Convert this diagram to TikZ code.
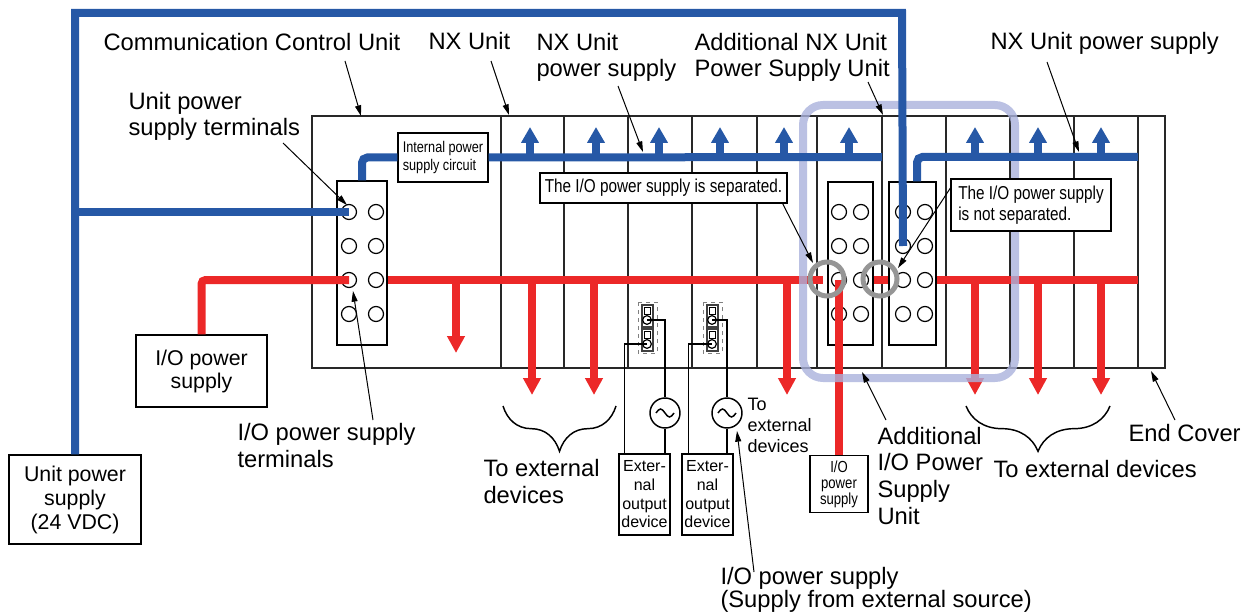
\documentclass[tikz,border=0pt]{standalone}
\usepackage{fontspec}
\setmainfont{Liberation Sans}
\newfontfamily\narrowfont[FakeStretch=0.82]{Liberation Sans}
\usetikzlibrary{arrows.meta,decorations.pathreplacing}

\definecolor{busblue}{RGB}{38,88,166}
\definecolor{busred}{RGB}{236,40,40}
\definecolor{framelav}{RGB}{170,178,220}
\definecolor{ringgray}{RGB}{150,150,150}
\definecolor{railgray}{RGB}{40,40,40}

\tikzset{every picture/.style={line width=0.75pt}}
\tikzset{
  rack/.style={draw=railgray, line width=1.5pt},
  tblock/.style={draw, line width=0.9pt, inner sep=0pt},
  term/.style={circle, draw, line width=0.9pt, minimum size=11.25pt, inner sep=0pt},
  pinhole/.style={circle, draw, line width=0.9pt, minimum size=6.5pt, inner sep=0pt},
  acsrc/.style={circle, draw, line width=1.1pt, minimum size=22.5pt, inner sep=0pt},
  lbl/.style={inner sep=0pt, align=left, font=\fontsize{17.8}{20}\selectfont},
  psbox/.style={draw, line width=1.1pt, align=center, inner sep=0pt, font=\fontsize{16}{18}\selectfont},
  devbox/.style={draw, line width=1.1pt, align=center, inner sep=0pt, font=\fontsize{12}{14}\selectfont, minimum width=38.25pt, minimum height=60.75pt},
  note/.style={draw, fill=white, line width=0.9pt, align=left, inner sep=0pt, font=\narrowfont\fontsize{14}{15.8}\selectfont},
  ptr/.style={-{Triangle[length=8pt,width=4.5pt]}, line width=0.75pt},
  bluebus/.style={busblue, line width=6pt},
  redbus/.style={busred, line width=6pt},
  bluearr/.style={busblue, line width=6pt, -{Triangle[length=12pt,width=12.75pt]}},
  redarr/.style={busred, line width=6pt, -{Triangle[length=12.75pt,width=12.75pt]}},
  wire/.style={line width=1.1pt},
  brc/.style={decorate, decoration={brace, amplitude=34pt}, line width=1.1pt},
}

\begin{document}
\begin{tikzpicture}[x=0.75pt,y=0.75pt,yscale=-1,xscale=1]
\useasboundingbox (0,0) rectangle (1245,613);

%Shape: Rectangle (rack)
\draw [rack] (312,116) rectangle (1165,368);
%Straight Lines (unit borders)
\draw [rack] (501,116) -- (501,368) (564,116) -- (564,368) (628,116) -- (628,368) (692,116) -- (692,368) (757,116) -- (757,368) (817,116) -- (817,368) (882,116) -- (882,368) (946,116) -- (946,368) (1010,116) -- (1010,368) (1074,116) -- (1074,368) (1138,116) -- (1138,368);

%Shape: terminal blocks
\draw (362,263) node [tblock, minimum width=37.5pt, minimum height=123pt] (blkc) {};
\draw (850.5,263.5) node [tblock, minimum width=33.75pt, minimum height=122.25pt] (blka) {};
\draw (912.5,263.5) node [tblock, minimum width=35.25pt, minimum height=122.25pt] (blkb) {};

%Shape: terminals
\draw (349,212) node [term] (c11) {} (376,212) node [term] (c12) {};
\draw (349,246) node [term] (c21) {} (376,246) node [term] (c22) {};
\draw (349,280) node [term] (c31) {} (376,280) node [term] (c32) {};
\draw (349,314) node [term] (c41) {} (376,314) node [term] (c42) {};
\draw (839,212) node [term] (a11) {} (861,212) node [term] (a12) {};
\draw (839,246) node [term] (a21) {} (861,246) node [term] (a22) {};
\draw (839,280) node [term] (a31) {} (861,280) node [term] (a32) {};
\draw (839,314) node [term] (a41) {} (861,314) node [term] (a42) {};
\draw (903,212) node [term] (b11) {} (925,212) node [term] (b12) {};
\draw (903,246) node [term] (b21) {} (925,246) node [term] (b22) {};
\draw (903,280) node [term] (b31) {} (925,280) node [term] (b32) {};
\draw (903,314) node [term] (b41) {} (925,314) node [term] (b42) {};

%Shape: jumpers
\draw [dashed, gray] (638,302) rectangle (657,353);
\draw [darkgray, line width=1.5pt] (642,305) rectangle (653,327) (642,329) rectangle (653,351);
\draw (644.5,307.5) rectangle (650.5,314) (644.5,331.5) rectangle (650.5,338);
\draw (647,320) node [pinhole] (j1a) {} (647,344) node [pinhole] (j1b) {};
\draw [dashed, gray] (703,302) rectangle (722,353);
\draw [darkgray, line width=1.5pt] (707,305) rectangle (718,327) (707,329) rectangle (718,351);
\draw (709.5,307.5) rectangle (715.5,314) (709.5,331.5) rectangle (715.5,338);
\draw (712,320) node [pinhole] (j2a) {} (712,344) node [pinhole] (j2b) {};

% Boxes
\draw (443,157.5) node [draw, fill=white, line width=0.9pt, align=left, inner sep=0pt, minimum width=67.5pt, minimum height=36.75pt, font=\narrowfont\fontsize{11.6}{14}\selectfont] (intc) {Internal power\\supply circuit};
\draw (75,499.5) node [psbox, minimum width=99pt, minimum height=66.75pt] (upsbox) {Unit power\\supply\\(24 VDC)};
\draw (201.5,371) node [psbox, minimum width=98.25pt, minimum height=54pt, font=\fontsize{16}{17.25}\selectfont] (iobox) {I/O power\\supply};
\draw (644.5,494.5) node [devbox] (ext1) {Exter-\\nal\\output\\device};
\draw (707.5,494.5) node [devbox] (ext2) {Exter-\\nal\\output\\device};
\draw (839,484) node [draw, line width=1.1pt, align=center, inner sep=0pt, minimum width=43.5pt, minimum height=42.75pt, font=\narrowfont\fontsize{12}{12}\selectfont] (iops) {I/O\\power\\supply};

% AC sources
\draw (665,413) node [acsrc] (ac1) {};
\draw [wire] (656,413) sin (660.5,409) cos (665,413) sin (669.5,417) cos (674,413);
\draw (727,413) node [acsrc] (ac2) {};
\draw [wire] (718,413) sin (722.5,409) cos (727,413) sin (731.5,417) cos (736,413);

% wires
\draw [wire] (j1a.center) -| (ac1.north);
\draw [wire] (ac1.south) -- (ac1 |- ext1.north);
\draw [wire] (j1b.center) -| ([xshift=4.5pt]ext1.north west);
\draw [wire] (j2a.center) -| (ac2.north);
\draw [wire] (ac2.south) -- (ac2 |- ext2.north);
\draw [wire] (j2b.center) -| ([xshift=5.25pt]ext2.north west);

% red I/O power lines
\coordinate (redend) at (823,280);
\coordinate (redend2) at (1138,280);
\draw [redbus, rounded corners=3pt] (iobox.north) |- (c31.center);
\draw [redbus] (blkc.east |- c31) -- (redend);
\draw [redbus] (blka.east |- c31) -- (blkb.west |- c31);
\draw [redbus] (blkb.east |- c31) -- (redend2);
\draw [redbus] (a31.center) -- (iops.north);
\draw [redarr] (456,280) -- (456,353);
\draw [redarr] (532,280) -- (532,395);
\draw [redarr] (594,280) -- (594,395);
\draw [redarr] (787,280) -- (787,395);
\draw [redarr] (975,280) -- (975,395);
\draw [redarr] (1038,280) -- (1038,395);
\draw [redarr] (1101,280) -- (1101,395);

%Shape: highlight frame
\draw [framelav, line width=6pt, rounded corners=15pt, opacity=0.8] (803,105) rectangle (1015,378);

% blue unit power lines
\coordinate (busend1) at (882,157);
\coordinate (busend2) at (1138,157);
\draw [bluebus] (upsbox.north) -- (75,13) -- (902,13) -- (b21.center);
\draw [bluebus] (75,212) -- (c11.center);
\draw [bluebus, rounded corners=4pt] (blkc.north) |- (intc.west);
\draw [bluebus] (intc.east) -- (busend1);
\draw [bluebus, rounded corners=4pt] ([xshift=3.4pt]blkb.north) |- (busend2);
\draw [bluearr] (530,157) -- (530,127);
\draw [bluearr] (596,157) -- (596,127);
\draw [bluearr] (659,157) -- (659,127);
\draw [bluearr] (720,157) -- (720,127);
\draw [bluearr] (784,157) -- (784,127);
\draw [bluearr] (849,157) -- (849,127);
\draw [bluearr] (975,157) -- (975,127);
\draw [bluearr] (1038,157) -- (1038,127);
\draw [bluearr] (1101,157) -- (1101,127);

%Shape: rings
\draw [ringgray, line width=3.75pt] (827,279) circle [radius=17];
\draw [ringgray, line width=3.75pt] (880,279) circle [radius=17];

% Callouts
\draw (663.5,188) node [note, minimum width=185.25pt, minimum height=22.5pt] (sepbox) {The I/O power supply is separated.};
\draw (1031,205) node [note, minimum width=120pt, minimum height=39pt] (nsepbox) {The I/O power supply\\is not separated.};

% Text Node
\draw (103,51) node [lbl, anchor=base west] (ccu) {Communication Control Unit};
\draw (428,50) node [lbl, anchor=base west] (nxu) {NX Unit};
\draw (536,77) node [lbl, anchor=base west] (nxps) {NX Unit\\power supply};
\draw (694,77) node [lbl, anchor=base west] (addnx) {Additional NX Unit\\Power Supply Unit};
\draw (990,50) node [lbl, anchor=base west] (nxps2) {NX Unit power supply};
\draw (128,136) node [lbl, anchor=base west] (upst) {Unit power\\supply terminals};
\draw (237,467) node [lbl, anchor=base west] (iopst) {I/O power supply\\terminals};
\draw (483,503) node [lbl, anchor=base west] (toext1) {To external\\devices};
\draw (993,477) node [lbl, anchor=base west] (toext2) {To external devices};
\draw (877,524) node [lbl, anchor=base west] (addio) {Additional\\I/O Power\\Supply\\Unit};
\draw (1128,441) node [lbl, anchor=base west] (endc) {End Cover};
\draw (720,607) node [lbl, anchor=base west, font=\fontsize{17.8}{17.25}\selectfont] (extsrc) {I/O power supply\\(Supply from external source)};
\draw (747,452) node [lbl, anchor=base west, font=\fontsize{13.5}{15.5}\selectfont] (toext3) {To\\external\\devices};

% Braces
\draw [brc] (616,406) -- (503,406);
\draw [brc] (1110,406) -- (966,406);

% pointer ends
\coordinate (ccuA) at (345,61); \coordinate (ccuB) at (361,116);
\coordinate (nxuA) at (491,61); \coordinate (nxuB) at (509,115);
\coordinate (nxpsA) at (618,86); \coordinate (nxpsB) at (643,152);
\coordinate (addnxA) at (868,82); \coordinate (addnxB) at (883,115);
\coordinate (nxps2A) at (1047,62); \coordinate (nxps2B) at (1079,152);
\coordinate (upstA) at (283,143); \coordinate (upstB) at (347,205);
\coordinate (iopstA) at (373,420); \coordinate (iopstB) at (353,291);
\coordinate (sepB) at (813,263);
\coordinate (nsepB) at (898,268);
\coordinate (addioA) at (886,420); \coordinate (addioB) at (862,372);
\coordinate (endcA) at (1175,420); \coordinate (endcB) at (1151,371);
\coordinate (extsrcA) at (754,572); \coordinate (extsrcB) at (737,431);

%Straight Lines (pointers)
\draw [ptr] (ccuA) -- (ccuB);
\draw [ptr] (nxuA) -- (nxuB);
\draw [ptr] (nxpsA) -- (nxpsB);
\draw [ptr] (addnxA) -- (addnxB);
\draw [ptr] (nxps2A) -- (nxps2B);
\draw [ptr] (upstA) -- (upstB);
\draw [ptr] (iopstA) -- (iopstB);
\draw [ptr] ([xshift=-3.75pt]sepbox.south east) -- (sepB);
\draw [ptr] ([yshift=-12.75pt]nsepbox.west) -- (nsepB);
\draw [ptr] (addioA) -- (addioB);
\draw [ptr] (endcA) -- (endcB);
\draw [ptr] (extsrcA) -- (extsrcB);

\end{tikzpicture}
\end{document}
